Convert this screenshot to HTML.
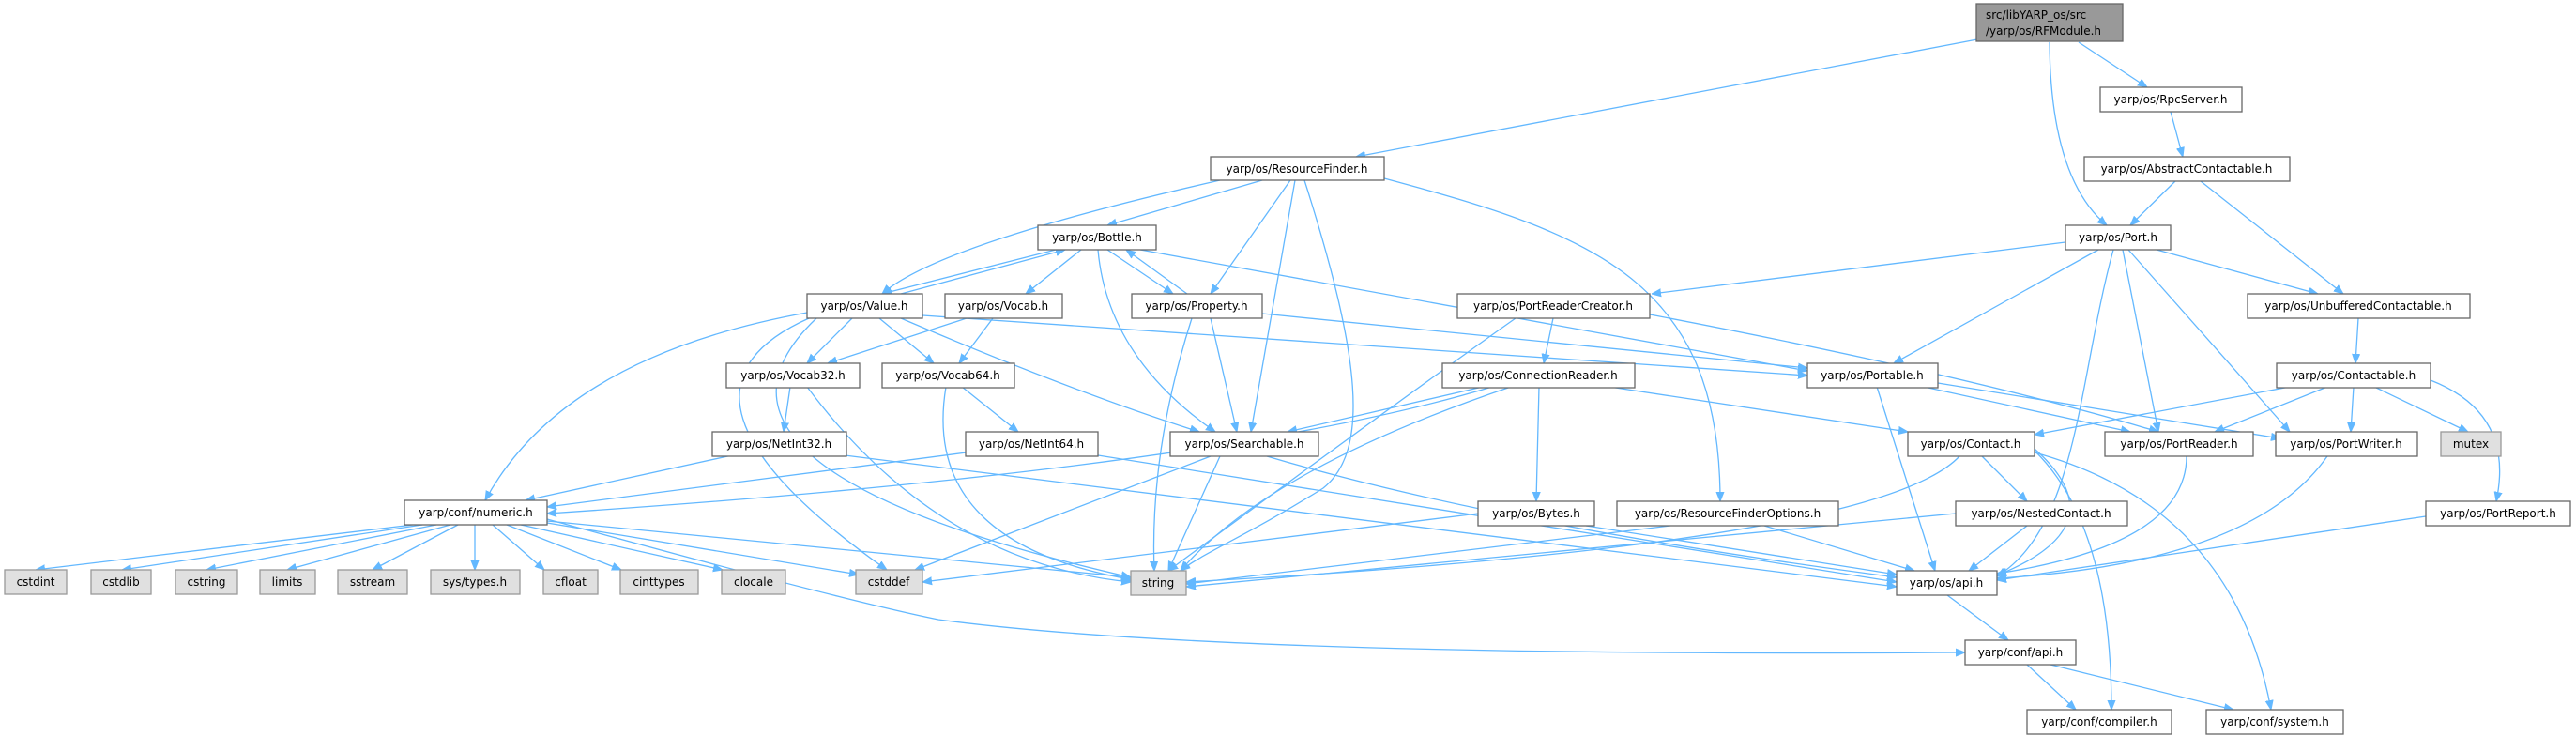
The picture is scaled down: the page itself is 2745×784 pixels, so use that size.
<!DOCTYPE html>
<html><head><meta charset="utf-8"><style>
html,body{margin:0;padding:0;background:#fff}
svg{display:block}
text{font-family:"DejaVu Sans","Liberation Sans",sans-serif;font-size:12px;fill:#000}
.n rect{fill:#fff;stroke:#666;stroke-width:1.3}
.g rect{fill:#e0e0e0;stroke:#999;stroke-width:1.3}
.e path{fill:none;stroke:#63b8ff;stroke-width:1.3}
</style></head><body>
<svg width="2745" height="784" viewBox="0 0 2745 784" xmlns="http://www.w3.org/2000/svg">
<defs><marker id="a" viewBox="0 0 10 10" refX="10" refY="5" markerWidth="10" markerHeight="10" markerUnits="userSpaceOnUse" orient="auto"><path d="M0,1 L10,5 L0,9 z" fill="#63b8ff" stroke="#63b8ff"/></marker></defs>
<g class="e" marker-end="url(#a)">
<path marker-end="url(#a)" d="M2107,42 L1445,167"/>
<path marker-end="url(#a)" d="M2215,45 L2288,93"/>
<path marker-end="url(#a)" d="M2184,45 Q2185,190 2245,240"/>
<path marker-end="url(#a)" d="M2313,119 L2326,167"/>
<path marker-end="url(#a)" d="M2318,193 L2270,240"/>
<path marker-end="url(#a)" d="M2345,193 L2497,313"/>
<path marker-end="url(#a)" d="M2513,339 L2510,387"/>
<path marker-end="url(#a)" d="M2201,258 L1760,313"/>
<path marker-end="url(#a)" d="M2236,266 L2018,387"/>
<path marker-end="url(#a)" d="M2298,266 L2470,313"/>
<path marker-end="url(#a)" d="M2252,266 C2215,400 2215,560 2128,614"/>
<path marker-end="url(#a)" d="M2262,266 L2300,460"/>
<path marker-end="url(#a)" d="M2268,266 L2440,460"/>
<path marker-end="url(#a)" d="M1300,192 Q1000,260 940,313"/>
<path marker-end="url(#a)" d="M1345,192 L1180,240"/>
<path marker-end="url(#a)" d="M1375,192 L1290,313"/>
<path marker-end="url(#a)" d="M1380,192 L1333,460"/>
<path marker-end="url(#a)" d="M1390,192 C1450,380 1460,480 1410,520 C1330,570 1280,590 1258,608"/>
<path marker-end="url(#a)" d="M1475,190 C1700,250 1833,300 1833,534"/>
<path marker-end="url(#a)" d="M1125,266 L940,313"/>
<path marker-end="url(#a)" d="M960,313 L1135,266"/>
<path marker-end="url(#a)" d="M1152,266 L1093,313"/>
<path marker-end="url(#a)" d="M1180,266 L1250,313"/>
<path marker-end="url(#a)" d="M1265,313 L1200,266"/>
<path marker-end="url(#a)" d="M1215,266 L1926,395"/>
<path marker-end="url(#a)" d="M1170,266 Q1180,380 1295,460"/>
<path marker-end="url(#a)" d="M908,339 L860,387"/>
<path marker-end="url(#a)" d="M937,339 L995,387"/>
<path marker-end="url(#a)" d="M960,339 Q1150,420 1278,460"/>
<path marker-end="url(#a)" d="M983,336 L1926,400"/>
<path marker-end="url(#a)" d="M860,333 Q600,380 517,533"/>
<path marker-end="url(#a)" d="M862,339 Q680,420 945,607"/>
<path marker-end="url(#a)" d="M870,339 Q700,500 1205,615"/>
<path marker-end="url(#a)" d="M1030,339 L882,387"/>
<path marker-end="url(#a)" d="M1058,339 L1022,387"/>
<path marker-end="url(#a)" d="M1345,334 L1926,392"/>
<path marker-end="url(#a)" d="M1290,339 L1318,460"/>
<path marker-end="url(#a)" d="M1270,339 Q1225,480 1230,608"/>
<path marker-end="url(#a)" d="M1655,339 L1645,387"/>
<path marker-end="url(#a)" d="M1758,335 Q2100,400 2300,460"/>
<path marker-end="url(#a)" d="M1615,339 Q1500,420 1245,608"/>
<path marker-end="url(#a)" d="M842,412 L835,460"/>
<path marker-end="url(#a)" d="M860,412 Q1000,600 1205,620"/>
<path marker-end="url(#a)" d="M1025,412 L1085,460"/>
<path marker-end="url(#a)" d="M1008,412 Q980,580 1210,618"/>
<path marker-end="url(#a)" d="M780,485 L560,533"/>
<path marker-end="url(#a)" d="M900,485 L2021,625"/>
<path marker-end="url(#a)" d="M1030,482 L583,540"/>
<path marker-end="url(#a)" d="M1170,485 L2021,620"/>
<path marker-end="url(#a)" d="M1580,412 L1372,460"/>
<path marker-end="url(#a)" d="M1715,412 L2033,460"/>
<path marker-end="url(#a)" d="M1640,412 L1637,534"/>
<path marker-end="url(#a)" d="M1590,412 Q1300,500 583,547"/>
<path marker-end="url(#a)" d="M1610,412 Q1350,500 1258,608"/>
<path marker-end="url(#a)" d="M2000,412 L2062,608"/>
<path marker-end="url(#a)" d="M2050,412 L2270,460"/>
<path marker-end="url(#a)" d="M2065,408 L2430,467"/>
<path marker-end="url(#a)" d="M2440,412 L2168,463"/>
<path marker-end="url(#a)" d="M2480,412 L2360,460"/>
<path marker-end="url(#a)" d="M2508,412 L2505,460"/>
<path marker-end="url(#a)" d="M2530,412 L2630,460"/>
<path marker-end="url(#a)" d="M2590,405 Q2680,440 2660,534"/>
<path marker-end="url(#a)" d="M1290,486 L975,607"/>
<path marker-end="url(#a)" d="M1300,486 L1245,608"/>
<path marker-end="url(#a)" d="M1350,486 Q1600,560 2021,615"/>
<path marker-end="url(#a)" d="M2112,486 L2160,534"/>
<path marker-end="url(#a)" d="M2088,486 Q2000,580 1264,620"/>
<path marker-end="url(#a)" d="M2168,478 Q2260,560 2128,613"/>
<path marker-end="url(#a)" d="M2168,480 Q2250,560 2250,756"/>
<path marker-end="url(#a)" d="M2168,482 Q2380,540 2420,756"/>
<path marker-end="url(#a)" d="M2330,486 Q2330,580 2128,611"/>
<path marker-end="url(#a)" d="M2480,486 Q2400,600 2128,616"/>
<path marker-end="url(#a)" d="M440,559 L38,607"/>
<path marker-end="url(#a)" d="M450,559 L130,607"/>
<path marker-end="url(#a)" d="M465,559 L220,607"/>
<path marker-end="url(#a)" d="M480,559 L306,607"/>
<path marker-end="url(#a)" d="M488,559 L397,607"/>
<path marker-end="url(#a)" d="M506,559 L506,607"/>
<path marker-end="url(#a)" d="M525,559 L580,607"/>
<path marker-end="url(#a)" d="M540,559 L662,607"/>
<path marker-end="url(#a)" d="M555,559 L770,607"/>
<path marker-end="url(#a)" d="M583,557 L915,612"/>
<path marker-end="url(#a)" d="M583,555 L1205,615"/>
<path marker-end="url(#a)" d="M583,553 Q900,640 1000,660 Q1300,700 2094,695"/>
<path marker-end="url(#a)" d="M1575,547 L983,620"/>
<path marker-end="url(#a)" d="M1690,560 L2021,612"/>
<path marker-end="url(#a)" d="M1780,560 L1264,622"/>
<path marker-end="url(#a)" d="M1880,560 L2040,608"/>
<path marker-end="url(#a)" d="M2084,547 L1264,625"/>
<path marker-end="url(#a)" d="M2160,560 L2098,608"/>
<path marker-end="url(#a)" d="M2585,550 L2128,618"/>
<path marker-end="url(#a)" d="M2075,634 L2140,682"/>
<path marker-end="url(#a)" d="M2160,708 L2212,756"/>
<path marker-end="url(#a)" d="M2185,708 L2380,756"/>
</g>
<g>
<g><rect x="2106" y="4" width="156" height="40" fill="#999" stroke="#666" stroke-width="1.3"/><text x="2116" y="20">src/libYARP_os/src</text><text x="2116" y="37">/yarp/os/RFModule.h</text></g>
<g class="n"><rect x="1290" y="167" width="185" height="25"/><text x="1382" y="184" text-anchor="middle">yarp/os/ResourceFinder.h</text></g>
<g class="n"><rect x="2238" y="93" width="151" height="26"/><text x="2313" y="110" text-anchor="middle">yarp/os/RpcServer.h</text></g>
<g class="n"><rect x="2221" y="167" width="219" height="26"/><text x="2330" y="184" text-anchor="middle">yarp/os/AbstractContactable.h</text></g>
<g class="n"><rect x="2201" y="240" width="112" height="26"/><text x="2257" y="257" text-anchor="middle">yarp/os/Port.h</text></g>
<g class="n"><rect x="1106" y="240" width="126" height="26"/><text x="1169" y="257" text-anchor="middle">yarp/os/Bottle.h</text></g>
<g class="n"><rect x="860" y="313" width="123" height="26"/><text x="921" y="330" text-anchor="middle">yarp/os/Value.h</text></g>
<g class="n"><rect x="1007" y="313" width="125" height="26"/><text x="1069" y="330" text-anchor="middle">yarp/os/Vocab.h</text></g>
<g class="n"><rect x="1206" y="313" width="139" height="26"/><text x="1275" y="330" text-anchor="middle">yarp/os/Property.h</text></g>
<g class="n"><rect x="1553" y="313" width="205" height="26"/><text x="1655" y="330" text-anchor="middle">yarp/os/PortReaderCreator.h</text></g>
<g class="n"><rect x="2395" y="313" width="237" height="26"/><text x="2513" y="330" text-anchor="middle">yarp/os/UnbufferedContactable.h</text></g>
<g class="n"><rect x="774" y="387" width="142" height="26"/><text x="845" y="404" text-anchor="middle">yarp/os/Vocab32.h</text></g>
<g class="n"><rect x="940" y="387" width="141" height="26"/><text x="1010" y="404" text-anchor="middle">yarp/os/Vocab64.h</text></g>
<g class="n"><rect x="1537" y="387" width="205" height="26"/><text x="1639" y="404" text-anchor="middle">yarp/os/ConnectionReader.h</text></g>
<g class="n"><rect x="1926" y="387" width="139" height="26"/><text x="1995" y="404" text-anchor="middle">yarp/os/Portable.h</text></g>
<g class="n"><rect x="2426" y="387" width="164" height="26"/><text x="2508" y="404" text-anchor="middle">yarp/os/Contactable.h</text></g>
<g class="n"><rect x="759" y="460" width="143" height="26"/><text x="830" y="477" text-anchor="middle">yarp/os/NetInt32.h</text></g>
<g class="n"><rect x="1029" y="460" width="141" height="26"/><text x="1099" y="477" text-anchor="middle">yarp/os/NetInt64.h</text></g>
<g class="n"><rect x="1247" y="460" width="158" height="26"/><text x="1326" y="477" text-anchor="middle">yarp/os/Searchable.h</text></g>
<g class="n"><rect x="2033" y="460" width="135" height="26"/><text x="2100" y="477" text-anchor="middle">yarp/os/Contact.h</text></g>
<g class="n"><rect x="2243" y="460" width="158" height="26"/><text x="2322" y="477" text-anchor="middle">yarp/os/PortReader.h</text></g>
<g class="n"><rect x="2425" y="460" width="151" height="26"/><text x="2500" y="477" text-anchor="middle">yarp/os/PortWriter.h</text></g>
<g class="g"><rect x="2601" y="460" width="64" height="26"/><text x="2633" y="477" text-anchor="middle">mutex</text></g>
<g class="n"><rect x="431" y="533" width="152" height="26"/><text x="507" y="550" text-anchor="middle">yarp/conf/numeric.h</text></g>
<g class="n"><rect x="1575" y="534" width="124" height="26"/><text x="1637" y="551" text-anchor="middle">yarp/os/Bytes.h</text></g>
<g class="n"><rect x="1723" y="534" width="236" height="26"/><text x="1841" y="551" text-anchor="middle">yarp/os/ResourceFinderOptions.h</text></g>
<g class="n"><rect x="2084" y="534" width="183" height="26"/><text x="2175" y="551" text-anchor="middle">yarp/os/NestedContact.h</text></g>
<g class="n"><rect x="2585" y="534" width="154" height="26"/><text x="2662" y="551" text-anchor="middle">yarp/os/PortReport.h</text></g>
<g class="g"><rect x="5" y="607" width="66" height="26"/><text x="38" y="624" text-anchor="middle">cstdint</text></g>
<g class="g"><rect x="97" y="607" width="64" height="26"/><text x="129" y="624" text-anchor="middle">cstdlib</text></g>
<g class="g"><rect x="187" y="607" width="66" height="26"/><text x="220" y="624" text-anchor="middle">cstring</text></g>
<g class="g"><rect x="277" y="607" width="59" height="26"/><text x="306" y="624" text-anchor="middle">limits</text></g>
<g class="g"><rect x="360" y="607" width="74" height="26"/><text x="397" y="624" text-anchor="middle">sstream</text></g>
<g class="g"><rect x="459" y="607" width="95" height="26"/><text x="506" y="624" text-anchor="middle">sys/types.h</text></g>
<g class="g"><rect x="579" y="607" width="58" height="26"/><text x="608" y="624" text-anchor="middle">cfloat</text></g>
<g class="g"><rect x="661" y="607" width="83" height="26"/><text x="702" y="624" text-anchor="middle">cinttypes</text></g>
<g class="g"><rect x="769" y="607" width="68" height="26"/><text x="803" y="624" text-anchor="middle">clocale</text></g>
<g class="g"><rect x="912" y="607" width="71" height="26"/><text x="947" y="624" text-anchor="middle">cstddef</text></g>
<g class="g"><rect x="1205" y="608" width="59" height="26"/><text x="1234" y="625" text-anchor="middle">string</text></g>
<g class="n"><rect x="2021" y="608" width="107" height="26"/><text x="2074" y="625" text-anchor="middle">yarp/os/api.h</text></g>
<g class="n"><rect x="2094" y="682" width="118" height="26"/><text x="2153" y="699" text-anchor="middle">yarp/conf/api.h</text></g>
<g class="n"><rect x="2160" y="756" width="154" height="26"/><text x="2237" y="773" text-anchor="middle">yarp/conf/compiler.h</text></g>
<g class="n"><rect x="2351" y="756" width="146" height="26"/><text x="2424" y="773" text-anchor="middle">yarp/conf/system.h</text></g>
</g>
</svg>
</body></html>
